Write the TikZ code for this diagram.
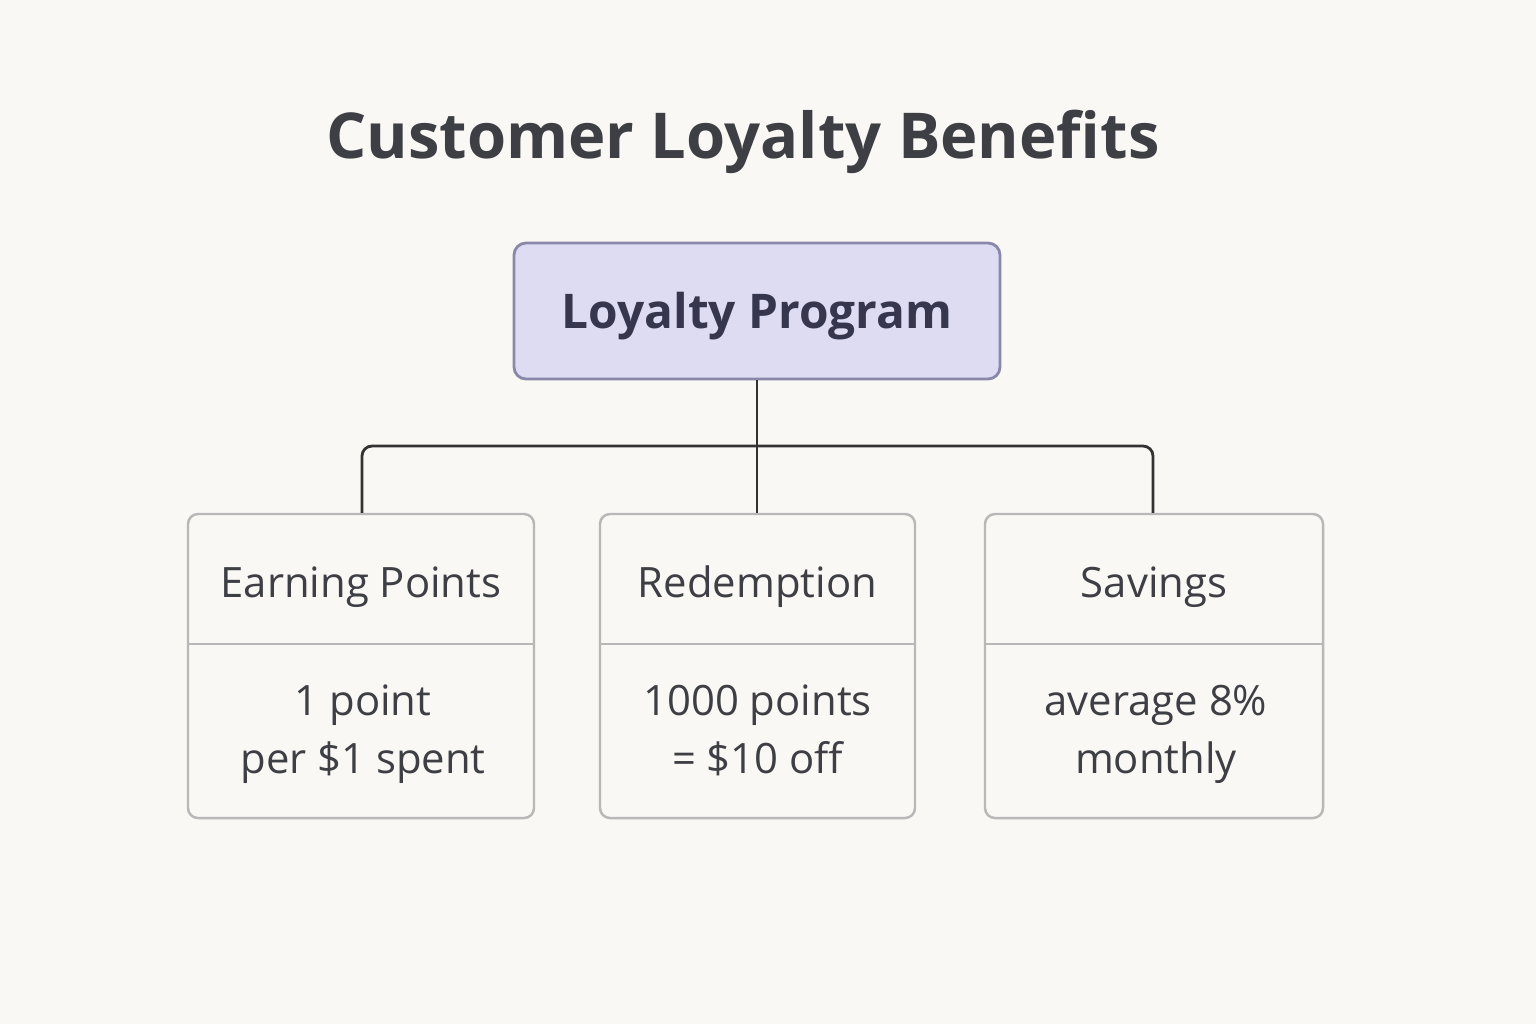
\documentclass[tikz,border=0pt]{standalone}
\usepackage{fontspec}
\setmainfont{Open Sans}
\usetikzlibrary{positioning}
\definecolor{bgcol}{HTML}{FAF8F4}
\definecolor{progfill}{HTML}{DEDCF3}
\definecolor{progline}{HTML}{8A88A8}
\definecolor{progtext}{HTML}{36364F}
\definecolor{cardline}{HTML}{B8B8B8}
\definecolor{textcol}{HTML}{3D3F45}
\definecolor{linkcol}{HTML}{333333}
\tikzset{
  card/.style={draw=cardline, line width=0.7pt, fill=bgcol, rounded corners=0.1cm,
    minimum width=#1, minimum height=3.04cm, inner sep=0pt},
  head/.style={anchor=base, text=textcol, font=\fontsize{11.9}{15}\selectfont},
  body/.style={anchor=base, text=textcol, align=center, font=\fontsize{11.9}{16.5}\selectfont},
  link/.style={draw=linkcol, line width=0.8pt, rounded corners=0.1cm},
  divider/.style={draw=cardline, line width=0.7pt}
}
\begin{document}
\begin{tikzpicture}
\fill[bgcol] (0,0) rectangle (15.36,-10.24);
\useasboundingbox (0,0) rectangle (15.36,-10.24);
% title
\node (title) [anchor=base, text=textcol, font=\fontsize{18}{22}\selectfont\bfseries] at (7.43,-1.58) {Customer Loyalty Benefits};
% top box
\node (prog) [draw=progline, fill=progfill, line width=0.8pt, rounded corners=0.12cm,
  minimum width=4.86cm, minimum height=1.36cm] at (7.57,-3.11) {};
\node (progtxt) [anchor=base, text=progtext, font=\fontsize{13.6}{16}\selectfont\bfseries] at (7.57,-3.28) {Loyalty Program};
% cards
\node (earn) [card=3.46cm] at (3.61,-6.66) {};
\node (redeem) [card=3.15cm] at (7.575,-6.66) {};
\node (save) [card=3.38cm] at (11.54,-6.66) {};
\draw[divider] (earn.west |- 0,-6.44) -- (earn.east |- 0,-6.44);
\draw[divider] (redeem.west |- 0,-6.44) -- (redeem.east |- 0,-6.44);
\draw[divider] (save.west |- 0,-6.44) -- (save.east |- 0,-6.44);
\node (earnhead) [head] at (3.61,-5.97) {Earning Points};
\node (redeemhead) [head] at (7.575,-5.97) {Redemption};
\node (savehead) [head] at (11.54,-5.97) {Savings};
\node (earnbody) [body] at (3.63,-7.73) {1 point\\per \$1 spent};
\node (redeembody) [body] at (7.575,-7.73) {1000 points\\= \$10 off};
\node (savebody) [body] at (11.56,-7.73) {average 8\%\\monthly};
% connectors
\coordinate (bus) at (7.57,-4.46);
\draw[link] (prog.south) -- (bus);
\draw[link] (bus) -| (earn.north -| 3.62,0);
\draw[link] (bus) -| (save.north -| 11.53,0);
\draw[link] (bus) -- (redeem.north -| 7.57,0);
\end{tikzpicture}
\end{document}
